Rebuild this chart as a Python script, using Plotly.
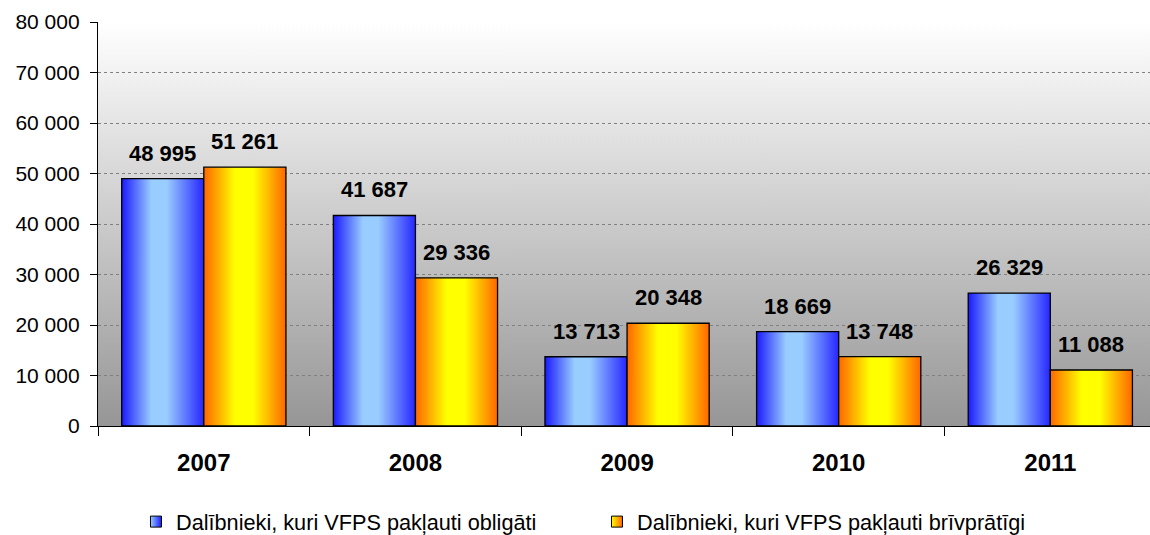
import base64
import plotly.graph_objects as go

# ---- data ----
years = ["2007", "2008", "2009", "2010", "2011"]
mandatory = [48995, 41687, 13713, 18669, 26329]
voluntary = [51261, 29336, 20348, 13748, 11088]
series_names = [
    "Dalībnieki, kuri VFPS pakļauti obligāti",
    "Dalībnieki, kuri VFPS pakļauti brīvprātīgi",
]
y_ticks = [0, 10000, 20000, 30000, 40000, 50000, 60000, 70000, 80000]

# ---- styling ----
BAR_W = 0.388
blue_scale = [[0, "#1a1aff"], [0.36, "#99ccff"], [0.55, "#99ccff"], [1, "#2626ff"]]
orange_scale = [[0, "#ff6600"], [0.38, "#ffff00"], [0.6, "#ffff00"], [1, "#ff6600"]]
FONT = "Liberation Sans, Arial, sans-serif"

fig = go.Figure()

series = [(mandatory, blue_scale, "#99ccff", "#1a1aff"),
          (voluntary, orange_scale, "#ffff00", "#ff6600")]

for s, (vals, scale, mid, edge) in enumerate(series):
    for i, v in enumerate(vals):
        x0 = i - BAR_W + s * BAR_W
        x1 = x0 + BAR_W
        fig.add_trace(go.Scatter(
            x=[x0, x0, x1, x1, x0], y=[0, v, v, 0, 0],
            mode="lines", fill="toself",
            fillgradient=dict(type="horizontal", colorscale=scale, start=x0, stop=x1),
            line=dict(color="black", width=1.3),
            showlegend=False, hoverinfo="skip",
        ))
        fig.add_annotation(
            x=(x0 + x1) / 2, y=v, text=f"{v:,}".replace(",", " "),
            showarrow=False, yanchor="bottom", yshift=11,
            font=dict(family=FONT, size=22, color="black", weight="bold"),
        )
    # legend entry
    fig.add_trace(go.Scatter(
        x=[None], y=[None], mode="markers", name=series_names[s],
        marker=dict(symbol="square", size=11, color=mid,
                    gradient=dict(type="horizontal", color=edge),
                    line=dict(color="black", width=1)),
    ))

# background gradient for plot area
svg = ('<svg xmlns="http://www.w3.org/2000/svg" width="100" height="100" preserveAspectRatio="none">'
       '<defs><linearGradient id="g" x1="0" y1="0" x2="0" y2="1">'
       '<stop offset="0" stop-color="#ffffff"/><stop offset="1" stop-color="#969696"/>'
       '</linearGradient></defs><rect width="100" height="100" fill="url(#g)"/></svg>')
src = "data:image/svg+xml;base64," + base64.b64encode(svg.encode()).decode()
fig.add_layout_image(dict(source=src, xref="paper", yref="paper", x=0, y=1,
                          sizex=1, sizey=1, sizing="stretch", layer="below",
                          xanchor="left", yanchor="top"))

fig.update_layout(
    width=1150, height=535,
    margin=dict(l=98, r=0, t=22, b=109),
    paper_bgcolor="white", plot_bgcolor="rgba(0,0,0,0)",
    separators=", ",
    font=dict(family=FONT, color="black"),
    showlegend=True,
    legend=dict(orientation="h", x=0.0361, xanchor="left",
                y=0.0243, yref="container", yanchor="middle",
                font=dict(family=FONT, size=21.7, color="black"),
                entrywidth=416, entrywidthmode="pixels",
                bgcolor="rgba(0,0,0,0)"),
    xaxis=dict(range=[-0.5, 4.471], tickmode="array", tickvals=list(range(len(years))),
               ticktext=years, ticks="", showgrid=False, zeroline=False,
               showline=True, linecolor="black", linewidth=1.3,
               tickfont=dict(family=FONT, size=24, color="black", weight="bold"),
               ticklabelstandoff=15,
               minor=dict(tickmode="array", tickvals=[i - 0.5 for i in range(len(years) + 1)],
                          ticks="outside", ticklen=9, tickcolor="black", tickwidth=1.3,
                          showgrid=False)),
    yaxis=dict(range=[0, 80000], tickmode="array", tickvals=y_ticks, tickformat=",d",
               ticks="outside", ticklen=7, tickcolor="black", tickwidth=1.3,
               ticklabelstandoff=6,
               showline=True, linecolor="black", linewidth=1.3,
               showgrid=True, gridcolor="#808080", griddash="dot", gridwidth=1,
               zeroline=False, tickfont=dict(family=FONT, size=21, color="black")),
)

fig.write_html("out.html",
               config={"displayModeBar": False},
               post_script="document.body.style.margin='0';document.body.style.overflow='hidden';")
